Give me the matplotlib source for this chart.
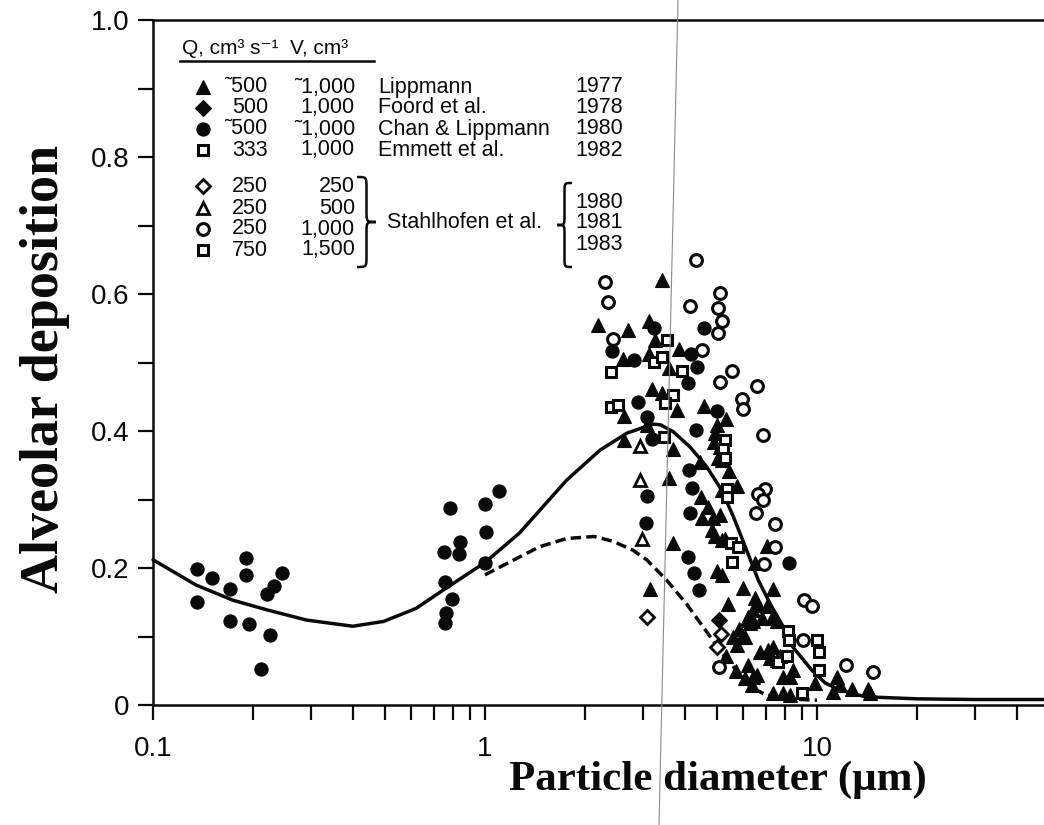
"""Alveolar deposition vs particle diameter, scanned-figure recreation."""
import matplotlib
matplotlib.use('Agg')
import matplotlib.pyplot as plt
from matplotlib.path import Path
from matplotlib.patches import PathPatch
from matplotlib.lines import Line2D

W, H = 1044, 825
SANS = ['Liberation Sans', 'DejaVu Sans']
SERIF = ['Liberation Serif', 'DejaVu Serif']
INK = '#0a0a0a'

# ── Data ──────────────────────────────────────────────────
# Lippmann 1977 (filled triangles)
lipp_x = [3.41, 2.19, 2.70, 3.13, 3.25, 3.13, 2.60, 3.59, 3.84, 3.19, 3.41, 2.62,
          3.08, 2.62, 3.68, 3.80, 4.58, 5.32, 3.59, 3.69, 3.14, 4.99, 4.93, 4.90,
          5.10, 5.04, 5.16, 4.44, 5.44, 5.73, 5.16, 4.46, 4.71, 4.51, 4.85, 5.10,
          4.82, 4.93, 5.16, 5.28, 7.06, 4.99, 5.19, 6.51, 5.97, 7.39, 6.51, 6.66,
          7.06, 5.41, 6.21, 6.43, 6.81, 7.30, 7.56, 5.83, 5.31, 5.69, 6.21, 5.60,
          5.93, 5.73, 6.07, 6.36, 6.58, 6.43, 6.28, 6.14, 6.07, 6.73, 7.13, 7.39,
          7.22, 7.56, 7.74, 7.92, 8.29, 8.48, 9.86, 6.43, 11.46, 11.73, 12.72, 14.27,
          14.44, 11.19, 7.39, 7.92, 8.29]
lipp_y = [0.621, 0.555, 0.548, 0.561, 0.533, 0.512, 0.505, 0.492, 0.519, 0.462, 0.455, 0.422,
          0.409, 0.387, 0.373, 0.431, 0.437, 0.417, 0.332, 0.236, 0.170, 0.409, 0.397, 0.384,
          0.377, 0.360, 0.358, 0.355, 0.342, 0.319, 0.314, 0.303, 0.289, 0.273, 0.273, 0.277,
          0.255, 0.246, 0.241, 0.243, 0.232, 0.196, 0.190, 0.207, 0.171, 0.169, 0.156, 0.146,
          0.144, 0.147, 0.129, 0.122, 0.127, 0.127, 0.122, 0.111, 0.071, 0.049, 0.058, 0.100,
          0.100, 0.088, 0.039, 0.029, 0.044, 0.139, 0.119, 0.124, 0.100, 0.078, 0.080, 0.085,
          0.068, 0.066, 0.071, 0.041, 0.041, 0.051, 0.032, 0.041, 0.041, 0.029, 0.024, 0.024,
          0.017, 0.019, 0.017, 0.017, 0.015]

# Foord et al. 1978 (filled diamonds)
foord_x = [5.07]
foord_y = [0.124]

# Chan & Lippmann 1980 (filled circles)
chan_x = [0.136, 0.151, 0.171, 0.191, 0.191, 0.244, 0.231, 0.220, 0.136, 0.171, 0.195, 0.225,
          0.212, 0.785, 1.003, 1.10, 0.841, 0.752, 0.833, 1.008, 1.003, 0.759, 0.795, 0.763,
          0.759, 3.23, 4.58, 2.41, 2.82, 4.17, 4.34, 4.10, 2.90, 3.07, 3.18, 5.01, 4.32,
          4.12, 4.19, 3.07, 3.05, 4.16, 4.08, 4.27, 4.42, 8.24]
chan_y = [0.199, 0.185, 0.170, 0.214, 0.190, 0.192, 0.173, 0.162, 0.151, 0.123, 0.118, 0.102,
          0.052, 0.288, 0.293, 0.313, 0.238, 0.223, 0.221, 0.253, 0.208, 0.180, 0.155, 0.135,
          0.119, 0.551, 0.551, 0.517, 0.504, 0.512, 0.494, 0.470, 0.443, 0.421, 0.389, 0.429,
          0.401, 0.343, 0.317, 0.305, 0.266, 0.281, 0.216, 0.192, 0.168, 0.208]

# Emmett et al. 1982 (open squares)
emmett_x = [3.53, 3.23, 3.41, 2.39, 3.93, 3.68, 3.49, 2.40, 2.52, 3.46, 5.28, 5.22, 5.28,
            5.37, 5.37, 5.50, 5.79, 5.56]
emmett_y = [0.533, 0.501, 0.508, 0.486, 0.488, 0.453, 0.441, 0.435, 0.438, 0.391, 0.387, 0.373,
            0.360, 0.316, 0.304, 0.236, 0.231, 0.209]

# Stahlhofen et al. (open symbols)
st250_x = [3.08, 5.13, 4.99]            # Q 250, V 250   diamonds
st250_y = [0.128, 0.103, 0.084]
st500_x = [2.94, 2.93, 2.97]            # Q 250, V 500   triangles
st500_y = [0.378, 0.328, 0.242]
st1000_x = [4.31, 2.30, 5.10, 2.35, 4.14, 5.02, 5.19, 5.02, 2.43, 4.49, 5.54, 5.10, 6.58,
            5.93, 5.97, 6.89, 6.97, 6.66, 6.89, 6.54, 7.47, 7.47, 6.94, 9.16, 9.64, 5.08,
            9.06, 12.23, 14.78]         # Q 250, V 1000  circles
st1000_y = [0.649, 0.618, 0.602, 0.589, 0.583, 0.579, 0.561, 0.543, 0.534, 0.518, 0.488, 0.472,
            0.465, 0.446, 0.432, 0.394, 0.316, 0.308, 0.299, 0.280, 0.264, 0.230, 0.206, 0.154,
            0.144, 0.055, 0.095, 0.059, 0.048]
st1500_x = [8.20, 8.25, 10.02, 10.14, 7.65, 8.10, 10.14, 8.99]   # Q 750, V 1500 squares
st1500_y = [0.108, 0.095, 0.095, 0.078, 0.063, 0.071, 0.051, 0.017]

# model curves
fit_x = [0.1, 0.135, 0.174, 0.22, 0.29, 0.40, 0.495, 0.62, 0.76, 1.0, 1.27, 1.76, 2.22,
         2.68, 3.21, 3.38, 3.69, 4.14, 4.65, 5.16, 5.60, 6.14, 6.66, 7.30, 7.92, 8.29,
         9.64, 10.6, 11.7, 14.0, 20.0, 30.0, 48.3]
fit_y = [0.212, 0.175, 0.153, 0.139, 0.124, 0.115, 0.122, 0.141, 0.170, 0.208, 0.251, 0.328,
         0.372, 0.397, 0.410, 0.409, 0.399, 0.377, 0.348, 0.314, 0.275, 0.226, 0.182, 0.144,
         0.114, 0.090, 0.051, 0.032, 0.022, 0.012, 0.009, 0.008, 0.008]
fit2_x = [1.0, 1.19, 1.46, 1.76, 2.13, 2.43, 2.79, 3.07, 3.53, 4.04, 4.54, 5.10, 5.60, 6.28,
          7.0, 8.0, 9.0, 10.0]
fit2_y = [0.190, 0.209, 0.231, 0.243, 0.246, 0.239, 0.226, 0.212, 0.182, 0.148, 0.114, 0.080,
          0.056, 0.027, 0.015, 0.010, 0.008, 0.007]

# legend table
leg_q = ['˜500', '500', '˜500', '333', '250', '250', '250', '750']
leg_v = ['˜1,000', '1,000', '˜1,000', '1,000', '250', '500', '1,000', '1,500']
leg_names = ['Lippmann', 'Foord et al.', 'Chan & Lippmann', 'Emmett et al.']
leg_years = ['1977', '1978', '1980', '1982']
stahl_years = ['1980', '1981', '1983']

# ── Styles ────────────────────────────────────────────────
ST = {
    'lipp':   dict(marker='^', ms=10, mfc=INK, mec=INK, mew=0.8),
    'foord':  dict(marker='D', ms=8, mfc=INK, mec=INK, mew=0.8),
    'chan':   dict(marker='o', ms=9.5, mfc=INK, mec=INK, mew=0.8),
    'emmett': dict(marker='s', ms=7.5, mfc='white', mec=INK, mew=2.2),
    'st250':  dict(marker='D', ms=7.5, mfc='white', mec=INK, mew=2.0),
    'st500':  dict(marker='^', ms=9, mfc='white', mec=INK, mew=2.0),
    'st1000': dict(marker='o', ms=8.5, mfc='white', mec=INK, mew=2.2),
    'st1500': dict(marker='s', ms=7.5, mfc='white', mec=INK, mew=2.2),
}

fig = plt.figure(figsize=(W / 100, H / 100), dpi=100)
fig.patch.set_facecolor('white')
ax = fig.add_axes([153 / W, 1 - 705 / H, (W - 153) / W, (705 - 20) / H])

ax.set_xscale('log')
ax.set_xlim(0.1, 48.3)
ax.set_ylim(0, 1.0)

# curves
ax.plot(fit_x, fit_y, color=INK, lw=2.5, solid_capstyle='round', zorder=2, clip_on=False)
ax.plot(fit2_x, fit2_y, color=INK, lw=2.5, ls=(0, (3.0, 1.5)), zorder=2)

# points
for key, xs, ys in [('chan', chan_x, chan_y), ('lipp', lipp_x, lipp_y),
                    ('foord', foord_x, foord_y), ('emmett', emmett_x, emmett_y),
                    ('st1500', st1500_x, st1500_y), ('st250', st250_x, st250_y),
                    ('st500', st500_x, st500_y), ('st1000', st1000_x, st1000_y)]:
    ax.plot(xs, ys, ls='none', zorder=3, **ST[key])

# ── Axes styling ──────────────────────────────────────────
for s in ['left', 'bottom', 'top']:
    ax.spines[s].set_linewidth(1.8)
    ax.spines[s].set_color(INK)
ax.spines['right'].set_visible(False)

ax.set_xticks([0.1, 1, 10], labels=['0.1', '1', '10'])
ax.set_xticks([0.2, 0.3, 0.4, 0.5, 0.6, 0.7, 0.8, 0.9,
               2, 3, 4, 5, 6, 7, 8, 9, 20, 30, 40], minor=True)
ax.set_xticklabels([], minor=True)
ax.set_yticks([0, 0.2, 0.4, 0.6, 0.8, 1.0], labels=['0', '0.2', '0.4', '0.6', '0.8', '1.0'])
ax.set_yticks([0.1, 0.3, 0.5, 0.7, 0.9], minor=True)

ax.tick_params(axis='both', which='both', direction='out', length=11, width=1.6,
               color=INK, top=False, right=False)
ax.tick_params(axis='x', which='major', pad=11)
ax.tick_params(axis='y', which='major', pad=6)
for lab in ax.get_xticklabels() + ax.get_yticklabels():
    lab.set_fontfamily(SANS)
    lab.set_fontsize(20)
    lab.set_color(INK)

ax.set_xlabel('Particle diameter (μm)', fontsize=31, fontweight='bold',
              family=SERIF, color=INK)
ax.xaxis.set_label_coords((718 - 153) / (W - 153), -(761 - 705) / 685)
ax.set_ylabel('Alveolar deposition', fontsize=39, fontweight='bold',
              family=SERIF, color=INK)
ax.yaxis.set_label_coords(-(153 - 70) / (W - 153), 0.49)


# ── Legend (drawn by hand, pixel positions) ───────────────
def fx(px):
    return px / W


def fy(py):
    return 1 - py / H


def ftext(px, py, s, ha='left', size=15.5, **kw):
    fig.text(fx(px), fy(py), s, ha=ha, va='center', fontsize=size,
             family=SANS, color=INK, **kw)


def brace(x0, x1, top, bot):
    """Curly brace from x0 (open side) pointing to x1, pixel coords."""
    xm = (x0 + x1) / 2
    mid = (top + bot) / 2
    r = min(abs(x1 - x0) * 0.6, (bot - top) / 6)
    pts = [(x0, top),
           (xm, top), (xm, top), (xm, top + r),
           (xm, mid - r),
           (xm, mid), (xm, mid), (x1, mid),
           (xm, mid), (xm, mid), (xm, mid + r),
           (xm, bot - r),
           (xm, bot), (xm, bot), (x0, bot)]
    codes = ([Path.MOVETO] + [Path.CURVE4] * 3 + [Path.LINETO] + [Path.CURVE4] * 6
             + [Path.LINETO] + [Path.CURVE4] * 3)
    path = Path([(fx(a), fy(b)) for a, b in pts], codes)
    fig.add_artist(PathPatch(path, fill=False, lw=1.8, ec=INK,
                             transform=fig.transFigure))


ftext(182, 49, 'Q, cm³ s⁻¹  V, cm³', size=15)
fig.add_artist(Line2D([fx(180), fx(374)], [fy(61), fy(61)], lw=1.8, color=INK))

row_y = [87, 107.5, 129, 150, 186, 208, 229, 250]
row_keys = ['lipp', 'foord', 'chan', 'emmett', 'st250', 'st500', 'st1000', 'st1500']
for i, key in enumerate(row_keys):
    fig.add_artist(Line2D([fx(203)], [fy(row_y[i])], ls='none', **ST[key]))
    ftext(268, row_y[i], leg_q[i], ha='right')
    ftext(355, row_y[i], leg_v[i], ha='right')
for i, name in enumerate(leg_names):
    ftext(378, row_y[i], name)
    ftext(623, row_y[i], leg_years[i], ha='right')

brace(357, 376, 177, 267)
ftext(387, 223, 'Stahlhofen et al.')
brace(572, 557, 183, 267)
for yy, yr in zip([202, 223, 245], stahl_years):
    ftext(623, yy, yr, ha='right')

# faint fold line left by the scan
fig.add_artist(Line2D([fx(678), fx(659)], [fy(0), fy(825)], lw=0.8, color='#8a8a8a'))

fig.savefig('out.png', dpi=100, facecolor='white')
